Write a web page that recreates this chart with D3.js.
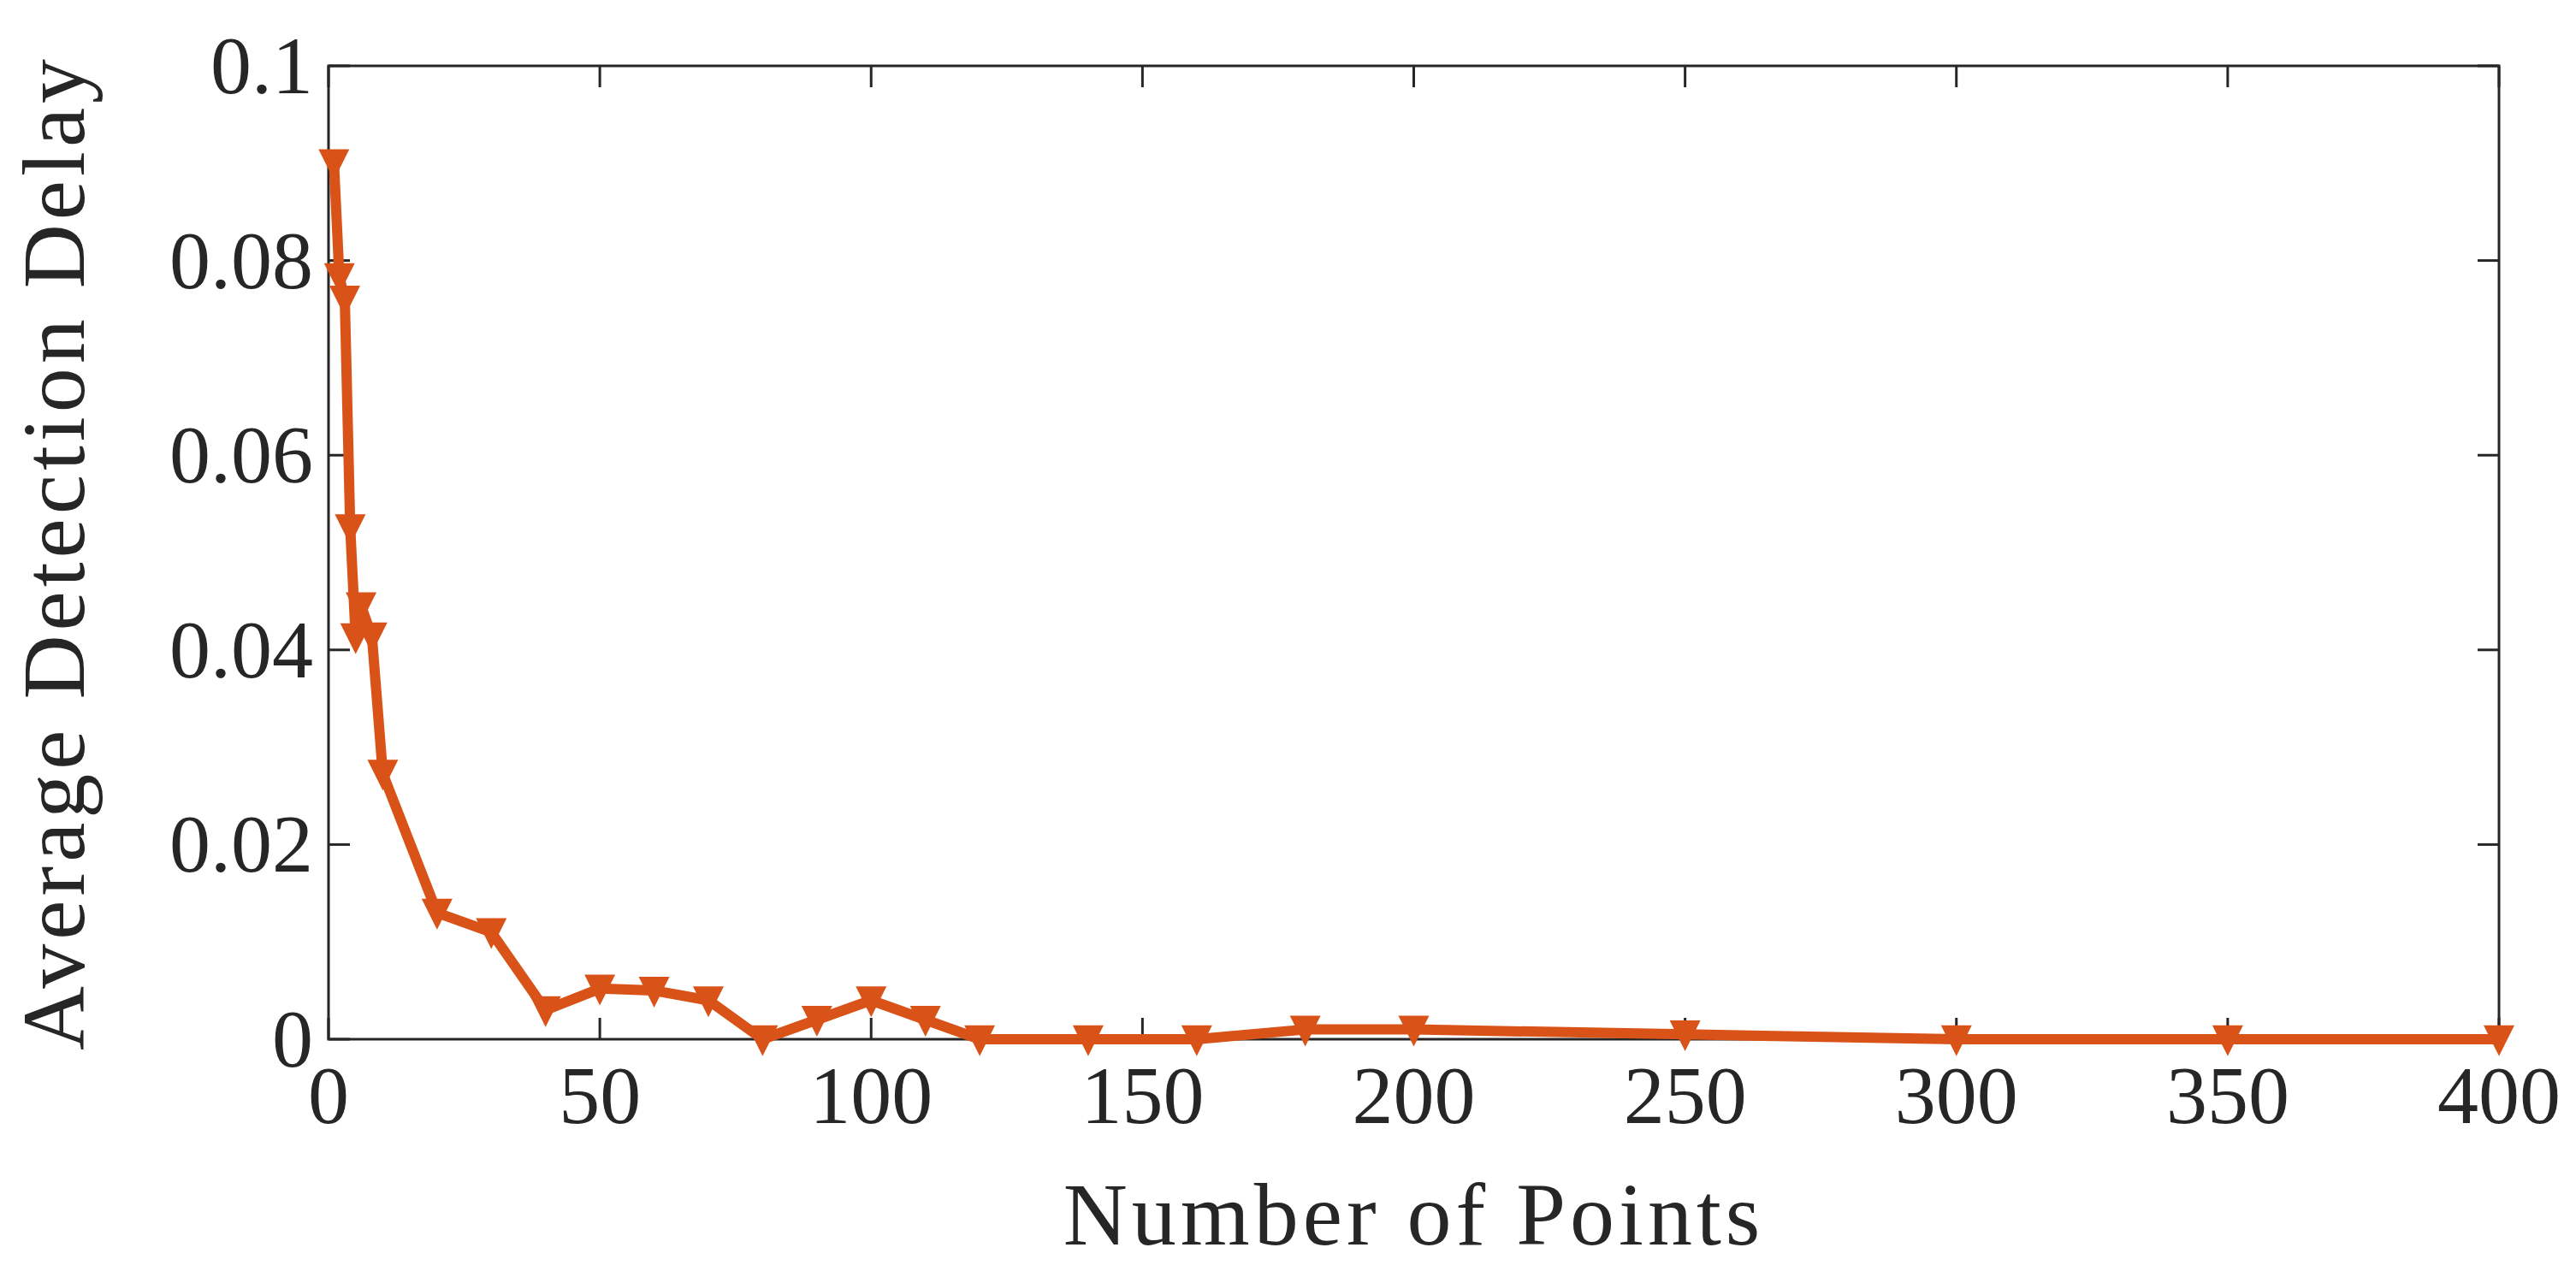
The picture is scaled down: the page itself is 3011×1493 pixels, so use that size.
<!DOCTYPE html>
<html>
<head>
<meta charset="utf-8">
<script src="https://cdn.jsdelivr.net/npm/d3@7"></script>
<style>
  body { margin: 0; background: #fff; }
  text { font-family: "Liberation Serif", "DejaVu Serif", serif; fill: #262626; }
</style>
</head>
<body>
<div id="chart"></div>
<script>
// data
const numPoints = [1, 2, 3, 4, 5, 6, 8, 10, 20, 30, 40, 50, 60, 70, 80, 90, 100, 110, 120, 140, 160, 180, 200, 250, 300, 350, 400];
const delay = [0.090, 0.0783, 0.076, 0.0525, 0.0413, 0.0445, 0.0414, 0.0273, 0.013, 0.011, 0.003, 0.0052, 0.005, 0.004, 0, 0.002, 0.004, 0.002, 0, 0, 0, 0.001, 0.001, 0.0005, 0, 0, 0];
const xTicks = [0, 50, 100, 150, 200, 250, 300, 350, 400];
const yTicks = [0, 0.02, 0.04, 0.06, 0.08, 0.1];

const W = 3011, H = 1493;
const m = { left: 384, right: 90, top: 77, bottom: 278 };
const colour = '#d95319';

const svg = d3.select('#chart').append('svg').attr('width', W).attr('height', H);

const x = d3.scaleLinear().domain([0, 400]).range([m.left, W - m.right]);
const y = d3.scaleLinear().domain([0, 0.1]).range([H - m.bottom, m.top]);

const tickLen = 25;
const fmtY = d => d === 0 ? '0' : d3.format('.2~f')(d);

// box
svg.append('rect')
  .attr('x', x(0)).attr('y', y(0.1))
  .attr('width', x(400) - x(0)).attr('height', y(0) - y(0.1))
  .attr('fill', 'none').attr('stroke', '#262626').attr('stroke-width', 3);

// ticks on all four sides
const tg = svg.append('g').attr('stroke', '#262626').attr('stroke-width', 3);
xTicks.forEach(t => {
  tg.append('line').attr('x1', x(t)).attr('x2', x(t)).attr('y1', y(0)).attr('y2', y(0) - tickLen);
  tg.append('line').attr('x1', x(t)).attr('x2', x(t)).attr('y1', y(0.1)).attr('y2', y(0.1) + tickLen);
});
yTicks.forEach(t => {
  tg.append('line').attr('x1', x(0)).attr('x2', x(0) + tickLen).attr('y1', y(t)).attr('y2', y(t));
  tg.append('line').attr('x1', x(400)).attr('x2', x(400) - tickLen).attr('y1', y(t)).attr('y2', y(t));
});

// tick labels
svg.selectAll('.xl').data(xTicks).enter().append('text')
  .attr('x', d => x(d)).attr('y', y(0) + 98)
  .attr('text-anchor', 'middle').style('font-size', '96px')
  .text(d => d);
svg.selectAll('.yl').data(yTicks).enter().append('text')
  .attr('x', x(0) - 18).attr('y', d => y(d) + 32)
  .attr('text-anchor', 'end').style('font-size', '96px')
  .text(fmtY);

// axis titles
svg.append('text')
  .attr('x', (x(0) + x(400)) / 2).attr('y', H - 38)
  .attr('text-anchor', 'middle').style('font-size', '104px')
  .style('letter-spacing', '5px')
  .text('Number of Points');
svg.append('text')
  .attr('transform', `translate(98,${(y(0) + y(0.1)) / 2}) rotate(-90)`)
  .attr('text-anchor', 'middle').style('font-size', '104px')
  .style('letter-spacing', '5px')
  .text('Average Detection Delay');

// series
const pts = numPoints.map((n, i) => [n, delay[i]]);
const line = d3.line().x(d => x(d[0])).y(d => y(d[1]));
svg.append('path').datum(pts)
  .attr('d', line).attr('fill', 'none')
  .attr('stroke', colour).attr('stroke-width', 12).attr('stroke-linejoin', 'round');

const s = 18;
svg.selectAll('.mk').data(pts).enter().append('path')
  .attr('transform', d => `translate(${x(d[0])},${y(d[1])})`)
  .attr('d', `M${-s},${-s * 0.9}L${s},${-s * 0.9}L0,${s * 1.1}Z`)
  .attr('fill', colour);
</script>
</body>
</html>
